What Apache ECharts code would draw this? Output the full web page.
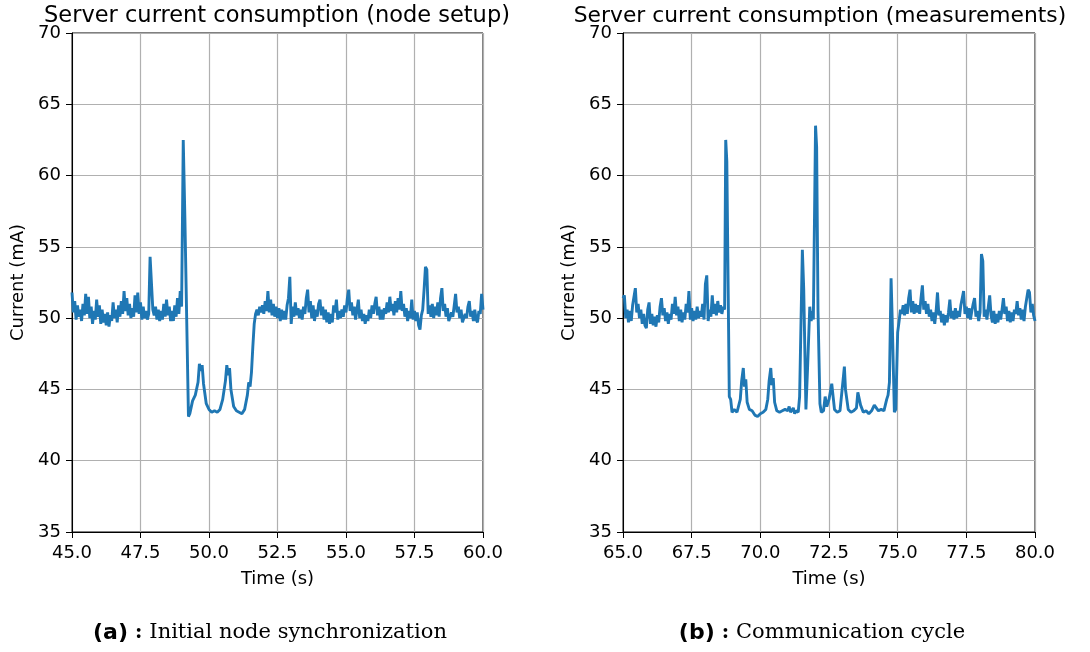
<!DOCTYPE html>
<html>
<head>
<meta charset="utf-8">
<script src="https://cdn.jsdelivr.net/npm/echarts@6/dist/echarts.min.js"></script>
<style>html,body{margin:0;padding:0;background:#fff}#c{width:1090px;height:652px}</style>
</head>
<body>
<div id="c"></div>
<script>
// ---- texts and ticks ----
const leftTitle = 'Server current consumption (node setup)';
const rightTitle = 'Server current consumption (measurements)';
const leftCaption = 'Initial node synchronization';
const rightCaption = 'Communication cycle';
const yTicks = [35, 40, 45, 50, 55, 60, 65, 70];
const leftXTicks = [45.0, 47.5, 50.0, 52.5, 55.0, 57.5, 60.0];
const rightXTicks = [65.0, 67.5, 70.0, 72.5, 75.0, 77.5, 80.0];

// ---- data: [time (s), current (mA)] ----
const leftBefore = [
[45.00,51.8],[45.05,50.4],[45.10,51.2],[45.15,49.9],[45.20,50.9],[45.25,50.1],[45.30,50.6],[45.35,49.8],[45.40,51.0],[45.45,50.2],
[45.50,51.7],[45.55,50.3],[45.60,51.5],[45.65,50.0],[45.70,50.8],[45.75,49.6],[45.80,50.5],[45.85,49.9],[45.90,51.3],[45.95,50.1],
[46.00,50.9],[46.05,49.6],[46.10,50.6],[46.15,49.7],[46.20,50.3],[46.25,49.5],[46.30,50.4],[46.35,49.4],[46.40,50.2],[46.45,49.8],
[46.50,51.1],[46.55,50.0],[46.60,50.6],[46.65,49.7],[46.70,50.9],[46.75,50.1],[46.80,51.2],[46.85,50.3],[46.90,51.9],[46.95,50.5],
[47.00,51.4],[47.05,50.2],[47.10,51.0],[47.15,50.0],[47.20,50.7],[47.25,50.1],[47.30,51.6],[47.35,50.4],[47.40,51.8],[47.45,50.3],
[47.50,51.1],[47.55,49.9],[47.60,50.8],[47.65,50.0],[47.70,50.5],[47.75,49.9],[47.80,50.3],[47.85,54.3],[47.90,54.2],[47.95,50.6],
[48.00,50.2],[48.05,50.8],[48.10,49.9],[48.15,50.6],[48.20,49.8],[48.25,50.5],[48.30,49.9],[48.35,51.0],[48.40,50.1],[48.45,51.3],
[48.50,50.2],[48.55,50.8],[48.60,49.8],[48.65,50.5],[48.70,49.8],[48.75,50.9],[48.80,50.1],[48.85,51.4],[48.90,50.3],[48.95,51.9],
[49.00,50.8]
];
const leftDip = [
[49.06,62.5],[49.12,57.0],[49.25,43.1],[49.30,43.3],[49.40,44.2],[49.50,44.6],[49.60,45.5],[49.65,46.8],[49.70,46.3],[49.75,46.7],
[49.80,45.4],[49.90,44.0],[50.00,43.6],[50.10,43.4],[50.20,43.5],[50.30,43.4],[50.40,43.6],[50.50,44.3],[50.60,45.6],[50.65,46.7],
[50.70,46.0],[50.75,46.5],[50.80,45.0],[50.90,43.8],[51.00,43.5],[51.10,43.4],[51.20,43.3],[51.30,43.6],[51.40,44.6],[51.45,45.5],
[51.50,45.2],[51.55,46.2],[51.60,48.0],[51.65,49.6]
];
const leftAfter = [
[51.70,50.3],[51.75,50.6],[51.80,50.2],[51.85,50.8],[51.90,50.4],[51.95,50.9],[52.00,50.3],[52.05,51.2],[52.10,50.5],[52.15,51.9],
[52.20,50.4],[52.25,51.3],[52.30,50.2],[52.35,51.0],[52.40,50.1],[52.45,50.8],[52.50,50.0],[52.55,50.7],[52.60,49.8],[52.65,50.6],
[52.70,49.9],[52.75,50.5],[52.80,49.9],[52.85,50.9],[52.90,51.4],[52.95,52.9],[53.00,49.6],[53.05,50.8],[53.10,50.1],[53.15,51.1],
[53.20,50.2],[53.25,50.7],[53.30,50.0],[53.35,50.6],[53.40,49.9],[53.45,50.8],[53.50,50.3],[53.55,51.4],[53.60,52.0],[53.65,50.4],
[53.70,51.2],[53.75,50.0],[53.80,50.9],[53.85,49.8],[53.90,50.6],[53.95,50.1],[54.00,51.0],[54.05,51.3],[54.10,50.2],[54.15,50.8],
[54.20,49.9],[54.25,50.6],[54.30,49.7],[54.35,50.4],[54.40,49.6],[54.45,50.3],[54.50,49.7],[54.55,50.9],[54.60,50.4],[54.65,51.3],
[54.70,49.9],[54.75,50.5],[54.80,50.0],[54.85,50.6],[54.90,50.1],[54.95,50.9],[55.00,50.4],[55.05,51.4],[55.10,52.0],[55.15,50.5],
[55.20,51.1],[55.25,50.2],[55.30,50.8],[55.35,49.9],[55.40,50.6],[55.45,51.3],[55.50,50.0],[55.55,50.6],[55.60,49.8],[55.65,50.3],
[55.70,49.6],[55.75,50.2],[55.80,49.8],[55.85,50.6],[55.90,50.0],[55.95,50.9],[56.00,50.3],[56.05,51.0],[56.10,51.5],[56.15,50.2],
[56.20,50.8],[56.25,49.9],[56.30,50.6],[56.35,49.9],[56.40,50.7],[56.45,50.3],[56.50,51.1],[56.55,50.4],[56.60,51.5],[56.65,50.5],
[56.70,51.0],[56.75,50.2],[56.80,51.2],[56.85,50.4],[56.90,51.4],[56.95,50.6],[57.00,51.9],[57.05,50.5],[57.10,51.0],[57.15,50.1],
[57.20,50.7],[57.25,49.8],[57.30,50.5],[57.35,50.0],[57.40,51.3],[57.45,49.9],[57.50,50.5],[57.55,49.8],[57.60,50.4],[57.65,49.5],
[57.70,49.2],[57.75,50.2],[57.80,50.6],[57.85,52.0],[57.90,53.6],[57.95,53.4],[58.00,50.3],[58.05,50.9],[58.10,50.1],[58.15,51.0],
[58.20,50.0],[58.25,50.8],[58.30,50.2],[58.35,51.1],[58.40,50.1],[58.45,51.4],[58.50,52.1],[58.55,50.5],[58.60,51.0],[58.65,50.1],
[58.70,50.7],[58.75,49.8],[58.80,49.7],[58.85,50.4],[58.90,50.1],[58.95,50.9],[59.00,51.7],[59.05,50.4],[59.10,50.8],[59.15,50.0],
[59.20,50.6],[59.25,49.7],[59.30,49.6],[59.35,50.3],[59.40,50.0],[59.45,50.8],[59.50,51.2],[59.55,50.1],[59.60,50.5],[59.65,49.8],
[59.70,50.6],[59.75,49.9],[59.80,49.7],[59.85,50.5],[59.90,50.3],[59.95,51.7],[60.00,50.6]
];

const rightBefore = [
[65.00,51.4],[65.05,51.6],[65.10,50.0],[65.15,50.6],[65.20,49.7],[65.25,50.5],[65.30,49.8],[65.35,50.9],[65.40,51.5],[65.45,52.1],
[65.50,50.4],[65.55,51.0],[65.60,50.0],[65.65,50.6],[65.70,49.6],[65.75,50.3],[65.80,49.5],[65.85,49.3],[65.90,50.6],[65.95,51.1],
[66.00,49.6],[66.05,50.3],[66.10,49.5],[66.15,50.1],[66.20,49.4],[66.25,50.2],[66.30,49.7],[66.35,50.8],[66.40,51.4],[66.45,50.2],
[66.50,50.7],[66.55,49.8],[66.60,50.4],[66.65,49.6],[66.70,50.3],[66.75,49.9],[66.80,51.0],[66.85,50.3],[66.90,51.5],[66.95,50.2],
[67.00,50.8],[67.05,49.8],[67.10,50.6],[67.15,49.7],[67.20,50.4],[67.25,49.9],[67.30,51.0],[67.35,50.4],[67.40,51.9],[67.45,49.9],
[67.50,50.7],[67.55,49.8],[67.60,50.5],[67.65,49.9],[67.70,50.8],[67.75,50.0],[67.80,50.5],[67.85,50.1],[67.90,51.0],[67.95,49.9],
[68.00,52.4],[68.05,53.0],[68.10,49.8],[68.15,50.6],[68.20,50.1],[68.25,51.6],[68.30,50.3],[68.35,51.0],[68.40,50.2],[68.45,51.2],
[68.50,50.4],[68.55,50.9],[68.60,50.3],[68.65,50.8],[68.70,50.6]
];
const rightDip = [
[68.74,62.5],[68.78,61.0],[68.87,44.5],[68.92,44.3],[68.97,43.4],[69.05,43.6],[69.15,43.4],[69.20,43.5],[69.27,44.3],[69.32,45.6],
[69.38,46.5],[69.42,45.2],[69.47,45.7],[69.52,44.1],[69.60,43.6],[69.70,43.5],[69.80,43.2],[69.90,43.1],[70.00,43.3],[70.10,43.4],
[70.20,43.6],[70.27,44.3],[70.32,45.6],[70.38,46.5],[70.42,45.3],[70.47,45.8],[70.52,44.1],[70.60,43.5],[70.70,43.4],[70.80,43.5],
[70.90,43.6],[71.00,43.5],[71.05,43.8],[71.10,43.4],[71.20,43.7],[71.25,43.3],[71.30,43.5],[71.38,43.4],[71.43,44.5],[71.53,54.8],
[71.58,52.0],[71.66,43.6],[71.72,46.5],[71.80,50.8],[71.85,49.8],[71.90,50.5],[71.93,49.9],[72.01,63.5],[72.05,62.0],[72.10,50.5],
[72.17,44.0],[72.22,43.4],[72.30,43.5],[72.36,44.5],[72.42,43.8],[72.50,44.3],[72.60,45.4],[72.65,44.5],[72.70,43.6],[72.80,43.4],
[72.90,43.5],[72.97,43.6],[73.03,46.0],[73.06,46.6],[73.10,45.0],[73.20,43.6],[73.30,43.4],[73.40,43.5],[73.50,43.7],[73.55,44.8],
[73.60,44.9],[73.65,43.9],[73.75,43.4],[73.85,43.5],[73.95,43.3],[74.05,43.5],[74.15,43.9],[74.22,44.0],[74.30,43.5],[74.40,43.6],
[74.50,43.5],[74.60,44.3],[74.65,44.6],[74.70,45.5],[74.76,52.8],[74.80,50.0],[74.88,43.4],[74.93,43.6],[75.00,49.0],[75.06,49.9]
];
const rightAfter = [
[75.10,50.6],[75.15,50.3],[75.20,50.9],[75.25,50.2],[75.30,51.0],[75.35,50.3],[75.40,51.4],[75.45,52.0],[75.50,50.4],[75.55,51.2],
[75.60,50.3],[75.65,51.0],[75.70,50.4],[75.75,50.9],[75.80,50.3],[75.85,51.4],[75.90,52.3],[75.95,50.6],[76.00,51.2],[76.05,50.3],
[76.10,51.0],[76.15,50.1],[76.20,50.6],[76.25,49.8],[76.30,50.4],[76.35,49.6],[76.40,50.5],[76.45,51.8],[76.50,50.2],[76.55,50.5],
[76.60,49.7],[76.65,50.3],[76.70,49.5],[76.75,50.2],[76.80,49.7],[76.85,50.4],[76.90,51.3],[76.95,50.0],[77.00,50.5],[77.05,49.9],
[77.10,50.7],[77.15,50.0],[77.20,50.5],[77.25,50.1],[77.30,50.9],[77.35,51.4],[77.40,51.9],[77.45,50.3],[77.50,50.8],[77.55,50.0],
[77.60,50.7],[77.65,49.9],[77.70,50.5],[77.75,51.0],[77.80,51.4],[77.85,50.1],[77.90,50.5],[77.95,49.8],[78.00,50.4],[78.05,54.5],
[78.10,54.0],[78.15,50.1],[78.20,50.6],[78.25,49.9],[78.30,50.8],[78.35,51.6],[78.40,50.2],[78.45,49.7],[78.50,50.5],[78.55,49.6],
[78.60,50.3],[78.65,49.7],[78.70,50.5],[78.75,49.9],[78.80,50.6],[78.85,51.4],[78.90,50.3],[78.95,50.8],[79.00,49.8],[79.05,50.5],
[79.10,49.7],[79.15,50.4],[79.20,49.8],[79.25,50.6],[79.30,50.3],[79.35,51.2],[79.40,50.2],[79.45,50.7],[79.50,49.9],[79.55,50.6],
[79.60,49.8],[79.65,50.8],[79.70,51.4],[79.75,52.0],[79.80,51.8],[79.85,50.4],[79.90,51.0],[79.95,50.2],[80.00,49.8]
];

const leftSamples = leftBefore.concat(leftDip, leftAfter);
const rightSamples = rightBefore.concat(rightDip, rightAfter);

// ---- chart ----
const FONT = 'DejaVu Sans';
const chart = echarts.init(document.getElementById('c'), null, {renderer: 'canvas'});

function xAxisCfg(gridIndex, ticks) {
  return {
    type: 'value', gridIndex,
    min: ticks[0], max: ticks[ticks.length - 1], interval: ticks[1] - ticks[0],
    name: 'Time (s)', nameLocation: 'middle', nameGap: 38,
    nameTextStyle: {fontFamily: FONT, fontSize: 18, color: '#000'},
    axisLine: {show: true, lineStyle: {color: '#000', width: 1}},
    axisTick: {show: true, length: 6, lineStyle: {color: '#000'}},
    axisLabel: {fontFamily: FONT, fontSize: 18, color: '#000', margin: 12,
      formatter: v => v.toFixed(1)},
    splitLine: {show: true, lineStyle: {color: '#b0b0b0', width: 1.2}}
  };
}
function yAxisCfg(gridIndex) {
  return {
    type: 'value', gridIndex,
    min: yTicks[0], max: yTicks[yTicks.length - 1], interval: yTicks[1] - yTicks[0],
    name: 'Current (mA)', nameLocation: 'middle', nameGap: 45, nameRotate: 90,
    nameTextStyle: {fontFamily: FONT, fontSize: 18, color: '#000'},
    axisLine: {show: true, lineStyle: {color: '#000', width: 1}},
    axisTick: {show: true, length: 6, lineStyle: {color: '#000'}},
    axisLabel: {fontFamily: FONT, fontSize: 18, color: '#000', margin: 11},
    splitLine: {show: true, lineStyle: {color: '#b0b0b0', width: 1.2}}
  };
}

const captionRich = {
  b: {fontFamily: FONT, fontWeight: 'bold', fontSize: 22, fill: '#000', color: '#000'},
  c: {fontFamily: 'DejaVu Serif', fontWeight: 'bold', fontSize: 20, fill: '#000', color: '#000'},
  n: {fontFamily: 'DejaVu Serif', fontSize: 21, fill: '#000', color: '#000'}
};

chart.setOption({
  animation: false,
  backgroundColor: '#fff',
  grid: [
    {left: 72, top: 33, width: 411, height: 499, show: true, borderColor: '#000', borderWidth: 1, backgroundColor: 'transparent'},
    {left: 623, top: 33, width: 412, height: 499, show: true, borderColor: '#000', borderWidth: 1, backgroundColor: 'transparent'}
  ],
  xAxis: [xAxisCfg(0, leftXTicks), xAxisCfg(1, rightXTicks)],
  yAxis: [yAxisCfg(0), yAxisCfg(1)],
  series: [
    {type: 'line', xAxisIndex: 0, yAxisIndex: 0, data: leftSamples, showSymbol: false, symbol: 'none',
     lineStyle: {color: '#1f77b4', width: 2.9}, clip: true},
    {type: 'line', xAxisIndex: 1, yAxisIndex: 1, data: rightSamples, showSymbol: false, symbol: 'none',
     lineStyle: {color: '#1f77b4', width: 2.9}, clip: true}
  ],
  graphic: [
    {type: 'text', x: 277, y: 16, style: {text: leftTitle, font: '22.5px "DejaVu Sans"', fill: '#000', textAlign: 'center', textVerticalAlign: 'middle'}},
    {type: 'text', x: 820, y: 16, style: {text: rightTitle, font: '21.8px "DejaVu Sans"', fill: '#000', textAlign: 'center', textVerticalAlign: 'middle'}},
    {type: 'text', x: 270, y: 633, style: {text: '{b|(a)}{c| : }{n|' + leftCaption + '}', rich: captionRich, textAlign: 'center', textVerticalAlign: 'middle'}},
    {type: 'text', x: 822, y: 633, style: {text: '{b|(b)}{c| : }{n|' + rightCaption + '}', rich: captionRich, textAlign: 'center', textVerticalAlign: 'middle'}}
  ]
});
</script>
</body>
</html>
